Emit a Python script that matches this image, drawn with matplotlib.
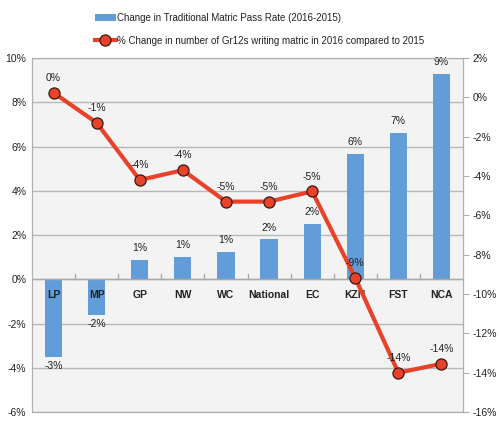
import matplotlib
matplotlib.use("Agg")
import matplotlib.pyplot as plt
import numpy as np

categories = ["LP", "MP", "GP", "NW", "WC", "National", "EC", "KZN", "FST", "NCA"]
pass_rate_change = [-3.5, -1.6, 0.86, 1.0, 1.24, 1.8, 2.5, 5.65, 6.6, 9.3]
pass_rate_labels = ["-3%", "-2%", "1%", "1%", "1%", "2%", "2%", "6%", "7%", "9%"]
writers_change = [0.24, -1.29, -4.2, -3.7, -5.3, -5.3, -4.78, -9.18, -14.0, -13.55]
writers_labels = ["0%", "-1%", "-4%", "-4%", "-5%", "-5%", "-5%", "-9%", "-14%", "-14%"]
left_ticks = [-6, -4, -2, 0, 2, 4, 6, 8, 10]
right_ticks = [-16, -14, -12, -10, -8, -6, -4, -2, 0, 2]

bar_color = "#629dd9"
line_color = "#e8422b"
text_color = "#222222"

plt.rcParams["font.family"] = ["Liberation Sans", "DejaVu Sans"]

fig = plt.figure(figsize=(5, 4.21), dpi=100)
ax = fig.add_axes([0.064, 0.0214, 0.862, 0.8406])
ax.set_facecolor("#f3f3f3")
x = np.arange(len(categories))

ax.set_ylim(-6, 10)
ax.set_xlim(-0.5, len(categories) - 0.5)
ax.set_yticks(left_ticks)
ax.set_yticklabels([f"{t}%" for t in left_ticks], fontsize=7.5, color=text_color)
ax.yaxis.grid(True, color="#b8b8b8", linewidth=1)
ax.set_axisbelow(True)
ax.tick_params(axis="y", length=0, pad=4)
ax.set_xticks([])

bars = ax.bar(x, pass_rate_change, width=0.4, color=bar_color, zorder=2,
              label="Change in Traditional Matric Pass Rate (2016-2015)")
ax.axhline(0, color="#aaaaaa", linewidth=1, zorder=2.5)
for xi in x[:-1]:
    ax.plot([xi + 0.5, xi + 0.5], [0, 0.25], color="#aaaaaa", lw=1, zorder=2.5)

for xi, v, lab in zip(x, pass_rate_change, pass_rate_labels):
    if v >= 0:
        ax.annotate(lab, (xi, v), xytext=(0, 5), textcoords="offset points",
                    ha="center", va="bottom", fontsize=7.5, color=text_color)
    else:
        ax.annotate(lab, (xi, v), xytext=(0, -3), textcoords="offset points",
                    ha="center", va="top", fontsize=7.5, color=text_color)

for xi, c in zip(x, categories):
    ax.annotate(c, (xi, 0), xytext=(0, -8), textcoords="offset points",
                ha="center", va="top", fontsize=7.5, fontweight="bold",
                color=text_color, zorder=3)

for s in ["left", "right", "top", "bottom"]:
    ax.spines[s].set_color("#b0b0b0")

ax2 = ax.twinx()
ax2.set_ylim(-16, 2)
ax2.set_yticks(right_ticks)
ax2.set_yticklabels([f"{t}%" for t in right_ticks], fontsize=7.5, color=text_color)
ax2.tick_params(axis="y", length=4, color="#b0b0b0", pad=3)
for s in ["left", "right", "top", "bottom"]:
    ax2.spines[s].set_color("#b0b0b0")
line, = ax2.plot(x, writers_change, color=line_color, linewidth=3, marker="o",
                 markersize=8, markerfacecolor=line_color, markeredgecolor="#3a1a10",
                 markeredgewidth=0.9, zorder=4,
                 label="% Change in number of Gr12s writing matric in 2016 compared to 2015")
for xi, v, lab in zip(x, writers_change, writers_labels):
    ax2.annotate(lab, (xi, v), xytext=(0, 7), textcoords="offset points",
                 ha="center", va="bottom", fontsize=7.5, color=text_color, zorder=5)

fig.legend([bars, line], [bars.get_label(), line.get_label()],
           loc="upper left", bbox_to_anchor=(0.172, 0.99), frameon=False,
           fontsize=7, handlelength=2.2, handletextpad=0.1, labelspacing=1.3,
           labelcolor=text_color)

fig.savefig("out.png", dpi=100)
